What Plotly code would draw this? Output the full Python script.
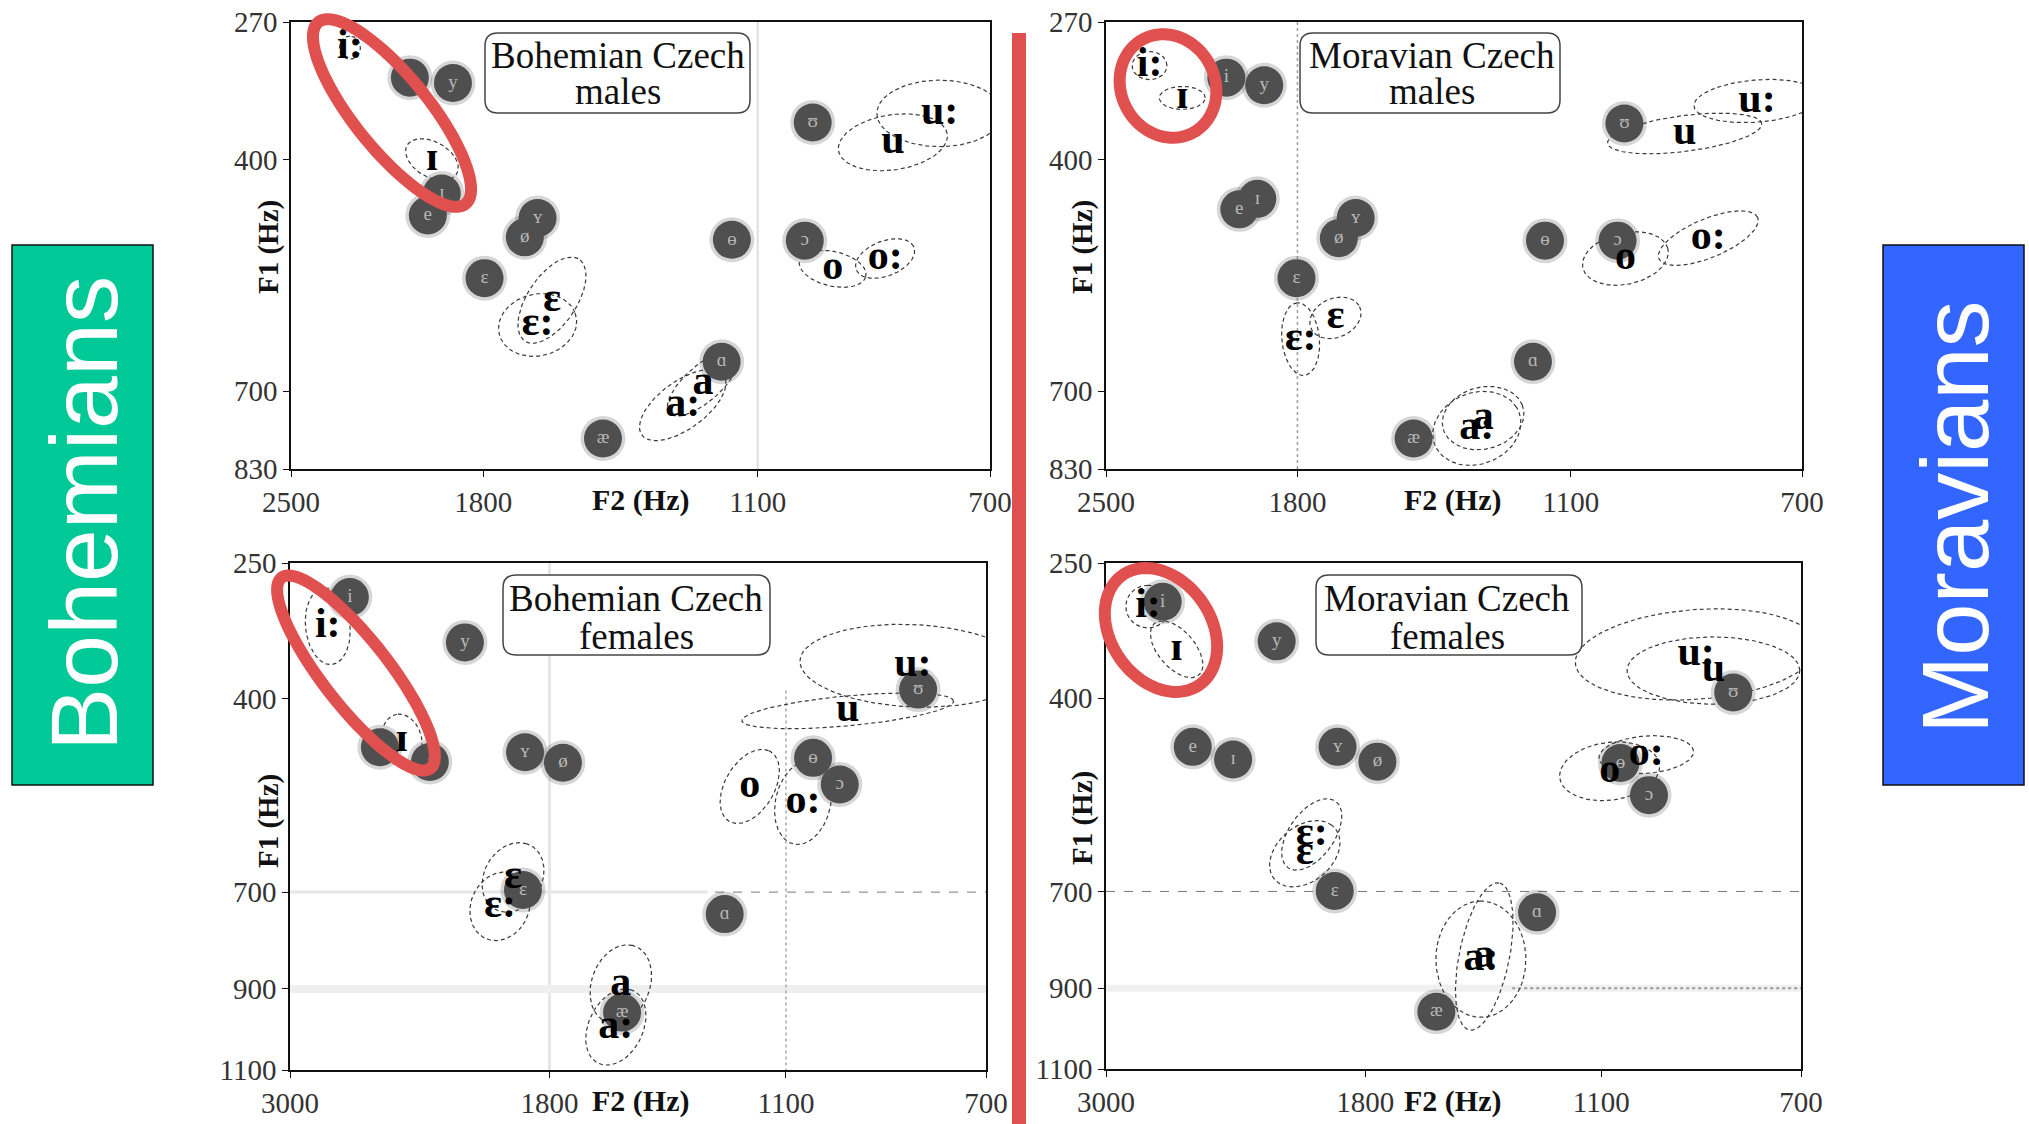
import numpy as np
import plotly.graph_objects as go

W, H = 2029, 1124

# ---------------- data (Hz) ----------------
ref_labels = ["i", "y", "ɪ", "e", "ʏ", "ø", "ɛ", "æ", "ʊ", "ɵ", "ɔ", "ɑ"]
cz_labels = ["i:", "ɪ", "ɛ", "ɛ:", "a", "a:", "u", "u:", "o", "o:"]

# Bohemian Czech males
bm_ref_f2 = [2043, 1897, 1934, 1981, 1637, 1674, 1796, 1458, 992, 1154, 1007, 1176]
bm_ref_f1 = [319, 324, 437, 462, 465, 488, 539, 777, 362, 491, 492, 655]
bm_cz_f2 = [2263, 1967, 1596, 1637, 1217, 1263, 850, 775, 955, 863]
bm_cz_f1 = [292, 400, 568, 602, 688, 722, 382, 353, 527, 514]
bm_cz_a = [0.18, 0.42, 0.75, 0.57, 0.67, 0.75, 0.79, 0.90, 0.49, 0.45]
bm_cz_b = [0.15, 0.27, 0.36, 0.48, 0.27, 0.36, 0.43, 0.52, 0.27, 0.27]
bm_cz_ang = [90, -35, 60, 20, 45, 40, 10, 0, -15, 25]

# Moravian Czech males
mm_ref_f2 = [2036, 1907, 1930, 1991, 1625, 1674, 1803, 1466, 994, 1154, 1007, 1180]
mm_ref_f1 = [319, 326, 443, 455, 465, 489, 539, 777, 363, 492, 492, 655]
mm_cz_f2 = [2322, 2196, 1684, 1790, 1293, 1308, 885, 767, 992, 845]
mm_cz_f1 = [308, 338, 592, 622, 743, 760, 373, 341, 514, 489]
mm_cz_a = [0.25, 0.33, 0.39, 0.57, 0.60, 0.66, 1.12, 0.91, 0.63, 0.78]
mm_cz_b = [0.22, 0.18, 0.30, 0.27, 0.48, 0.55, 0.28, 0.33, 0.40, 0.30]
mm_cz_ang = [0, 0, 30, 95, 20, 30, 8, 5, 15, 25]

# Bohemian Czech females
bf_ref_f2 = [2672, 2132, 2285, 2520, 1891, 1752, 1899, 1553, 820, 1037, 978, 1254]
bf_ref_f1 = [284, 333, 486, 465, 472, 487, 696, 955, 389, 480, 519, 742]
bf_cz_f2 = [2789, 2414, 1937, 1988, 1557, 1573, 961, 830, 1189, 1060]
bf_cz_f1 = [315, 455, 673, 727, 889, 990, 416, 360, 522, 547]
bf_cz_a = [0.72, 0.49, 0.67, 0.65, 0.75, 0.74, 1.77, 1.88, 0.74, 0.79]
bf_cz_b = [0.37, 0.33, 0.49, 0.49, 0.49, 0.46, 0.28, 0.77, 0.42, 0.46]
bf_cz_ang = [95, 100, 70, 75, 75, 70, 6, -3, 65, 80]

# Moravian Czech females
mf_ref_f2 = [2688, 2149, 2342, 2535, 1903, 1756, 1914, 1557, 820, 1055, 991, 1262]
mf_ref_f1 = [289, 332, 483, 465, 465, 486, 699, 955, 393, 488, 536, 740]
mf_cz_f2 = [2766, 2616, 2032, 2004, 1410, 1420, 858, 892, 1080, 997]
mf_cz_f1 = [294, 341, 632, 599, 830, 836, 366, 347, 500, 476]
mf_cz_a = [0.40, 0.61, 0.70, 0.74, 1.40, 1.09, 1.44, 2.02, 0.84, 0.79]
mf_cz_b = [0.37, 0.32, 0.49, 0.39, 0.42, 0.75, 0.63, 0.84, 0.54, 0.35]
mf_cz_ang = [90, -55, 50, 60, 80, 90, 0, 5, 10, 5]

male_f2_ticks = [2500, 1800, 1100, 700]
male_f1_ticks = [270, 400, 700, 830]
female_f2_ticks = [3000, 1800, 1100, 700]
female_f1_ticks = [250, 400, 700, 900, 1100]

panel_titles = [("Bohemian Czech", "males"), ("Moravian Czech", "males"),
                ("Bohemian Czech", "females"), ("Moravian Czech", "females")]


def erb(f):
    return 21.4 * np.log10(1 + 0.00437 * np.asarray(f, dtype=float))


def px(x):
    return x / W


def py(y):
    return 1 - y / H


SERIF = "Liberation Serif, DejaVu Serif, serif"

panels = [
    dict(ax="", ref=(bm_ref_f2, bm_ref_f1), cz=(bm_cz_f2, bm_cz_f1, bm_cz_a, bm_cz_b, bm_cz_ang),
         xt=male_f2_ticks, yt=male_f1_ticks, dx=(291, 990), dy=(22, 469)),
    dict(ax="2", ref=(mm_ref_f2, mm_ref_f1), cz=(mm_cz_f2, mm_cz_f1, mm_cz_a, mm_cz_b, mm_cz_ang),
         xt=male_f2_ticks, yt=male_f1_ticks, dx=(1106, 1802), dy=(22, 469)),
    dict(ax="3", ref=(bf_ref_f2, bf_ref_f1), cz=(bf_cz_f2, bf_cz_f1, bf_cz_a, bf_cz_b, bf_cz_ang),
         xt=female_f2_ticks, yt=female_f1_ticks, dx=(290, 986), dy=(563, 1070)),
    dict(ax="4", ref=(mf_ref_f2, mf_ref_f1), cz=(mf_cz_f2, mf_cz_f1, mf_cz_a, mf_cz_b, mf_cz_ang),
         xt=female_f2_ticks, yt=female_f1_ticks, dx=(1106, 1801), dy=(563, 1069)),
]

fig = go.Figure()
layout = dict(template="none", width=W, height=H, autosize=False,
              margin=dict(l=0, r=0, t=0, b=0, pad=0),
              paper_bgcolor="white", plot_bgcolor="white", showlegend=False)
shapes = []
annotations = []

t = np.linspace(0, 2 * np.pi, 120)

for p in panels:
    xa, ya = "x" + p["ax"], "y" + p["ax"]
    xt, yt = p["xt"], p["yt"]
    axis_common = dict(showgrid=False, zeroline=False, showline=True, mirror=True, automargin=False,
                       linecolor="#111", linewidth=1.5, ticks="outside", ticklen=6,
                       tickcolor="#111", tickfont=dict(family=SERIF, size=29, color="#333"))
    layout["xaxis" + p["ax"]] = dict(axis_common, domain=[px(p["dx"][0]), px(p["dx"][1])],
                                     range=[float(erb(xt[0])), float(erb(xt[-1]))],
                                     tickvals=list(erb(xt)), ticktext=[str(v) for v in xt],
                                     anchor=ya)
    layout["yaxis" + p["ax"]] = dict(axis_common, domain=[py(p["dy"][1]), py(p["dy"][0])],
                                     range=[float(erb(yt[-1])), float(erb(yt[0]))],
                                     tickvals=list(erb(yt)), ticktext=[str(v) for v in yt],
                                     anchor=xa)

    # Czech vowel ellipses
    f2, f1, aa, bb, ang = p["cz"]
    for k in range(len(f2)):
        th = np.deg2rad(ang[k])
        u = aa[k] * np.cos(t)
        v = bb[k] * np.sin(t)
        X = u * np.cos(th) - v * np.sin(th)
        Y = u * np.sin(th) + v * np.cos(th)
        fig.add_trace(go.Scatter(x=erb(f2[k]) - X, y=erb(f1[k]) - Y, mode="lines",
                                 line=dict(color="#3a3a3a", width=1.2, dash="4px,3px"),
                                 xaxis=xa, yaxis=ya, hoverinfo="skip"))

    # reference vowels (grey discs with soft edge)
    rf2, rf1 = p["ref"]
    fig.add_trace(go.Scatter(x=erb(rf2), y=erb(rf1), mode="markers",
                             marker=dict(size=45, color="rgba(70,70,70,0.22)", line=dict(width=0)),
                             xaxis=xa, yaxis=ya, hoverinfo="skip"))
    fig.add_trace(go.Scatter(x=erb(rf2), y=erb(rf1), mode="markers+text", text=ref_labels,
                             textposition="middle center",
                             textfont=dict(family=SERIF, size=19, color="#b8b8b8"),
                             marker=dict(size=38, color="#4f4f4f", line=dict(width=0)),
                             xaxis=xa, yaxis=ya, hoverinfo="skip"))
    # Czech labels
    fig.add_trace(go.Scatter(x=erb(f2), y=erb(f1), mode="text", text=cz_labels,
                             textposition="middle center",
                             textfont=dict(family=SERIF, size=42, color="#000", weight="bold"),
                             xaxis=xa, yaxis=ya, hoverinfo="skip"))


def note(x, y, text, size, color="#111", family=SERIF, angle=0):
    annotations.append(dict(x=px(x), y=py(y), xref="paper", yref="paper", text=text, showarrow=False,
                            xanchor="center", yanchor="middle", textangle=angle,
                            font=dict(family=family, size=size, color=color)))


for (x2, y2, x1, y1) in [(640, 500, 268, 247), (1452, 500, 1082, 247),
                         (640, 1101, 268, 821), (1452, 1101, 1082, 818)]:
    note(x2, y2, "<b>F2 (Hz)</b>", 30)
    note(x1, y1, "<b>F1 (Hz)</b>", 29, angle=-90)


# guide lines inside panels (data coordinates)
def hline(ax, f1, f2a, f2b, color, width, dash="solid"):
    shapes.append(dict(type="line", xref="x" + ax, yref="y" + ax, x0=float(erb(f2a)), x1=float(erb(f2b)),
                       y0=float(erb(f1)), y1=float(erb(f1)), line=dict(color=color, width=width, dash=dash),
                       layer="below"))


def vline(ax, f2, f1a, f1b, color, width, dash="solid"):
    shapes.append(dict(type="line", xref="x" + ax, yref="y" + ax, x0=float(erb(f2)), x1=float(erb(f2)),
                       y0=float(erb(f1a)), y1=float(erb(f1b)), line=dict(color=color, width=width, dash=dash),
                       layer="below"))


vline("", 1100, 270, 830, "#dedede", 2)
vline("2", 1800, 270, 830, "#a0a0a0", 1.5, "dot")
vline("3", 1800, 250, 1100, "#e6e6e6", 3)
hline("3", 700, 3000, 1300, "#e6e6e6", 3)
hline("3", 900, 3000, 700, "#efefef", 8)
hline("3", 700, 1280, 700, "#7a7a7a", 1, "dash")
vline("3", 1100, 390, 1100, "#a8a8a8", 1.5, "dot")
hline("4", 900, 3000, 700, "#f0f0f0", 7)
hline("4", 700, 3000, 700, "#7a7a7a", 1, "dash")
hline("4", 900, 1330, 700, "#9a9a9a", 2, "dot")


# rounded legend boxes
def rrect_path(x0, y0, x1, y1, r):
    pts = [("M", x0 + r, y0), ("L", x1 - r, y0), ("Q", x1, y0, x1, y0 + r), ("L", x1, y1 - r),
           ("Q", x1, y1, x1 - r, y1), ("L", x0 + r, y1), ("Q", x0, y1, x0, y1 - r), ("L", x0, y0 + r),
           ("Q", x0, y0, x0 + r, y0)]
    s = ""
    for seg in pts:
        cmd = seg[0]
        coords = seg[1:]
        s += cmd + " " + " ".join(
            f"{px(coords[i]):.5f},{py(coords[i + 1]):.5f}" for i in range(0, len(coords), 2)) + " "
    return s + "Z"


boxes = [(485, 33, 750, 113, 618, 55, 92), (1300, 33, 1560, 113, 1432, 55, 92),
         (503, 575, 770, 655, 636, 598, 636), (1316, 575, 1582, 655, 1447, 598, 636)]
for (bx0, by0, bx1, by1, tx, ty1, ty2), (l1, l2) in zip(boxes, panel_titles):
    shapes.append(dict(type="path", xref="paper", yref="paper", path=rrect_path(bx0, by0, bx1, by1, 13),
                       fillcolor="white", line=dict(color="#444", width=1.5), layer="above"))
    note(tx, ty1, l1, 37)
    note(tx, ty2, l2, 37)


# red highlight ellipses (pixel geometry)
def ellipse_path(cx, cy, a, b, deg):
    th = np.deg2rad(deg)
    tt = np.linspace(0, 2 * np.pi, 90)
    xs = cx + a * np.cos(tt) * np.cos(th) - b * np.sin(tt) * np.sin(th)
    ys = cy + a * np.cos(tt) * np.sin(th) + b * np.sin(tt) * np.cos(th)
    return "M " + " L ".join(f"{px(x):.5f},{py(y):.5f}" for x, y in zip(xs, ys)) + " Z"


for (cx, cy, a, b, deg) in [(392, 113, 117, 37, 51), (1168, 86, 53, 47, 62),
                            (356, 673, 121, 33, 52), (1161, 630, 67, 50, 55)]:
    shapes.append(dict(type="path", xref="paper", yref="paper", path=ellipse_path(cx, cy, a, b, deg),
                       line=dict(color="#E0504F", width=12), layer="above"))

# red divider
shapes.append(dict(type="rect", xref="paper", yref="paper", x0=px(1012), x1=px(1026), y0=py(1124), y1=py(33),
                   fillcolor="#E0504F", line=dict(width=0), layer="above"))

# side labels
shapes.append(dict(type="rect", xref="paper", yref="paper", x0=px(12), x1=px(153), y0=py(785), y1=py(245),
                   fillcolor="#00C896", line=dict(color="#111", width=1.5), layer="above"))
shapes.append(dict(type="rect", xref="paper", yref="paper", x0=px(1883), x1=px(2024), y0=py(785), y1=py(245),
                   fillcolor="#3366FF", line=dict(color="#111", width=1.5), layer="above"))
note(84, 514, "Bohemians", 95, color="white", family="Liberation Sans, Arial, sans-serif", angle=-90)
note(1955, 517, "Moravians", 94, color="white", family="Liberation Sans, Arial, sans-serif", angle=-90)

layout["shapes"] = shapes
layout["annotations"] = annotations
fig.update_layout(**layout)
fig.write_html("out.html")
